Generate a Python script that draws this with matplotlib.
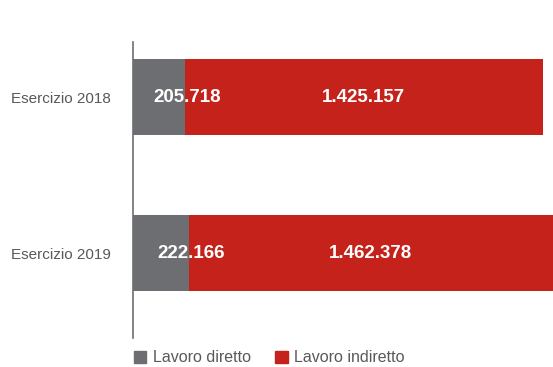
import matplotlib.pyplot as plt
from matplotlib.patches import Patch

plt.rcParams['font.family'] = ['Liberation Sans', 'DejaVu Sans']

categories = ['Esercizio 2018', 'Esercizio 2019']
diretto = [205718, 222166]
indiretto = [1425157, 1462378]
labels_diretto = ['205.718', '222.166']
labels_indiretto = ['1.425.157', '1.462.378']

grigio = '#6d6e71'
rosso = '#c4221b'

fig = plt.figure(figsize=(5.53, 3.67), dpi=100)
ax = fig.add_axes([133 / 553, 29 / 367, 420 / 553, 296 / 367])

y = list(range(len(categories)))
b1 = ax.barh(y, diretto, height=0.487, color=grigio)
b2 = ax.barh(y, indiretto, left=diretto, height=0.487, color=rosso)

# direct-labour values sit on the boundary between the two segments
for yi, val, lab in zip(y, diretto, labels_diretto):
    ax.annotate(lab, (val, yi), xytext=(2, 0), textcoords='offset points',
                ha='center', va='center', color='white',
                fontsize=13.5, fontweight='bold')
ax.bar_label(b2, labels=labels_indiretto, label_type='center', color='white',
             fontsize=13.5, fontweight='bold')

ax.set_xlim(0, 1672000)
ax.set_ylim(1.545, -0.353)
ax.set_yticks(y)
ax.set_yticklabels(categories, fontsize=11, color='#58595b')
ax.tick_params(axis='y', length=0, pad=16)
ax.set_xticks([])
for s in ['top', 'right', 'bottom']:
    ax.spines[s].set_visible(False)
ax.spines['left'].set_color('#6d6e71')
ax.spines['left'].set_linewidth(1.2)

handles = [Patch(color=grigio, label='Lavoro diretto'),
           Patch(color=rosso, label='Lavoro indiretto')]
fig.legend(handles=handles, loc='center', bbox_to_anchor=(269 / 553, 1 - 358 / 367),
           ncol=2, frameon=False, fontsize=11.5, handlelength=0.8, handleheight=0.8,
           handletextpad=0.4, columnspacing=1.5, labelcolor='#58595b')

fig.savefig('out.png', dpi=100)
